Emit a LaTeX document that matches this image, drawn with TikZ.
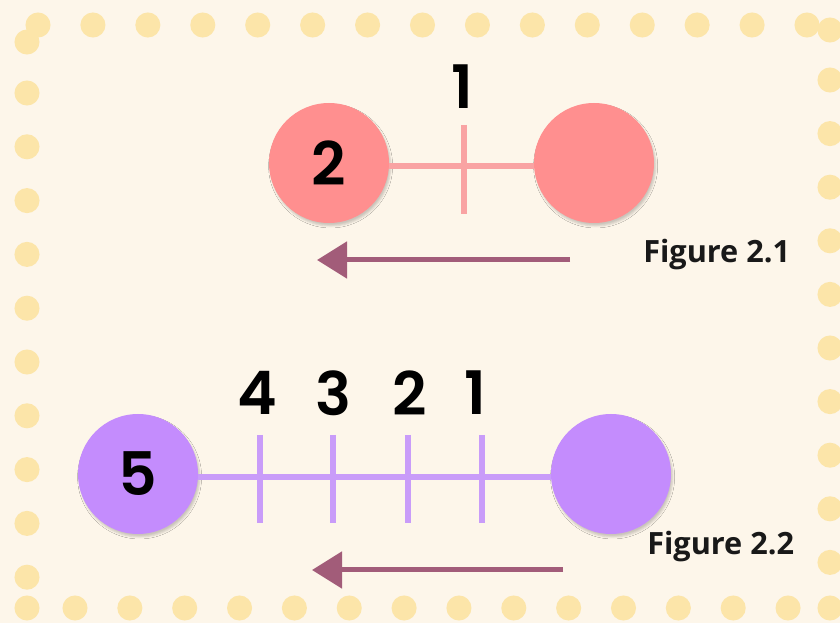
\documentclass[tikz,border=0pt]{standalone}
\usepackage{fontspec}
\usetikzlibrary{arrows.meta,shadows.blur}
\newfontfamily\numfont{Poppins}[UprightFont=* SemiBold]
\newfontfamily\capfont{Open Sans}[UprightFont=* Bold]

\definecolor{paper}{HTML}{FDF6EA}
\definecolor{dotyellow}{HTML}{FCE5A9}
\definecolor{ballred}{HTML}{FF8F8F}
\definecolor{rodred}{HTML}{F9A3A3}
\definecolor{ballpurple}{HTML}{C48CFD}
\definecolor{rodpurple}{HTML}{C99CF9}
\definecolor{arrowmauve}{HTML}{A25C79}

\tikzset{
  ball/.style={circle, minimum size=90pt, inner sep=0pt,
    blur shadow={shadow xshift=1.2pt, shadow yshift=-2.2pt,
      shadow blur radius=1.5pt, shadow opacity=20}},
  redball/.style={ball, fill=ballred},
  purpleball/.style={ball, fill=ballpurple},
  redrod/.style={draw=rodred, line width=4pt},
  purplerod/.style={draw=rodpurple, line width=4.5pt},
  redtick/.style={draw=rodred, line width=5pt},
  purpletick/.style={draw=rodpurple, line width=5pt},
  digit/.style={font=\numfont\fontsize{45}{45}\selectfont, text=black, inner sep=0pt},
  caption/.style={font=\capfont\fontsize{23}{23}\selectfont, text=black!90, inner sep=0pt, anchor=base west},
  motion/.style={draw=arrowmauve, line width=3.75pt,
    -{Triangle[length=22.5pt, width=27pt]}},
  dot/.style={fill=dotyellow}
}

\begin{document}
\begin{tikzpicture}[x=0.75pt, y=-0.75pt]
  \useasboundingbox (0,0) rectangle (840,623);
  \clip (0,0) rectangle (840,623);
  \fill[paper] (0,0) rectangle (840,623);

  % dotted frame
  \foreach \k in {0,...,14} \fill[dot] ({38+54.93*\k},25) circle[radius=9.4pt];
  \foreach \k in {0,...,9} \fill[dot] (27,{93+53.8*\k}) circle[radius=9.4pt];
  \foreach \k in {0,...,13} \fill[dot] ({75+54.85*\k},608) circle[radius=9.4pt];
  \foreach \k in {0,...,9} \fill[dot] (830,{80+53.6*\k}) circle[radius=9.4pt];
  \fill[dot] (27,42) circle[radius=9.4pt];
  \fill[dot] (27,608) circle[radius=9.4pt];
  \fill[dot] (830,30) circle[radius=9.4pt];
  \fill[dot] (830,608) circle[radius=9.4pt];

  % Figure 2.1: two balls joined by a rod, one tick
  \node[redball] (a1) at (329,163) {};
  \node[redball] (b1) at (594,163) {};
  \draw[redrod] (a1.east |- 0,166) -- (b1.west |- 0,166);
  \node[digit] (n2) at (a1) {2};
  \coordinate (t1top) at (464,125);
  \coordinate (t1bot) at (464,214);
  \draw[redtick] (t1top) -- (t1bot);
  \node[digit] (l1) at (462,87) {1};
  \coordinate (m1s) at (570,260);
  \coordinate (m1e) at (317,260);
  \draw[motion] (m1s) -- (m1e);
  \node[caption] (f1) at (643,263) {Figure 2.1};

  % Figure 2.2: two balls joined by a rod, four ticks
  \node[purpleball] (a2) at (138,474) {};
  \node[purpleball] (b2) at (611,474) {};
  \draw[purplerod] (a2.east |- 0,477) -- (b2.west |- 0,477);
  \node[digit] (n5) at (a2) {5};
  \foreach \x/\lx/\lab in {260/257/4, 333/333/3, 408/410/2, 482/475/1} {
    \coordinate (tt\lab) at (\x,435);
    \coordinate (tb\lab) at (\x,523);
    \draw[purpletick] (tt\lab) -- (tb\lab);
    \node[digit] (ll\lab) at (\lx,393) {\lab};
  }
  \coordinate (m2s) at (563,570);
  \coordinate (m2e) at (312,570);
  \draw[motion] (m2s) -- (m2e);
  \node[caption] (f2) at (647,555) {Figure 2.2};
\end{tikzpicture}
\end{document}
